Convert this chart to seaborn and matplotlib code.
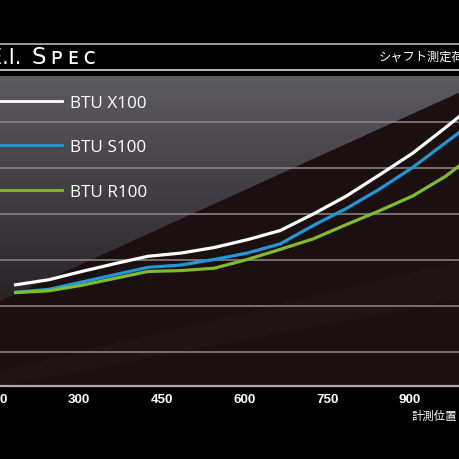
import numpy as np
import pandas as pd
import matplotlib
matplotlib.use("Agg")
import matplotlib.pyplot as plt
from matplotlib.patches import Polygon, Rectangle
import seaborn as sns

# ---- data ----
positions = [185, 245, 305, 365, 425, 485, 545, 605, 665, 725, 785, 845, 905, 965, 1025]
x100 = [2.46, 2.57, 2.75, 2.92, 3.08, 3.15, 3.27, 3.44, 3.64, 4.00, 4.39, 4.85, 5.32, 5.88, 6.46]
s100 = [2.30, 2.36, 2.52, 2.68, 2.84, 2.89, 3.01, 3.15, 3.35, 3.75, 4.12, 4.54, 5.01, 5.55, 6.09]
r100 = [2.29, 2.33, 2.45, 2.60, 2.75, 2.77, 2.82, 3.01, 3.23, 3.46, 3.77, 4.07, 4.39, 4.82, 5.37]
series_names = ["BTU X100", "BTU S100", "BTU R100"]
x_ticks = [150, 300, 450, 600, 750, 900, 1050]
grid_levels = [1, 2, 3, 4, 5, 6]
title_left = "E.I."
title_right = "S\u2009ᴘ\u2009ᴇ\u2009ᴄ"
header_jp = "シャフト測定荷重"
xlabel_jp = "計測位置（mm）"

colors = {"BTU X100": "#ffffff", "BTU S100": "#1d98d8", "BTU R100": "#80bb2a"}

df = pd.DataFrame({
    "pos": positions * 3,
    "val": x100 + s100 + r100,
    "shaft": [n for n in series_names for _ in positions],
})

W = H = 460
fig = plt.figure(figsize=(4.6, 4.6), dpi=100, facecolor="black")

# ---- background decoration in pixel space ----
bg = fig.add_axes([0, 0, 1, 1], zorder=0)
bg.set_xlim(0, W)
bg.set_ylim(H, 0)
bg.axis("off")
bg.add_patch(Rectangle((0, 0), W, H, color="black"))
# header rules
bg.plot([0, W], [44.5, 44.5], color="#c8c8c8", lw=1.1)
bg.plot([0, W], [70.5, 70.5], color="#e8e8e8", lw=1.1)
# grey gradient panel
grad = np.linspace(0, 1, 256)[:, None]
top = np.array([0x5c, 0x5b, 0x60]) / 255
bot = np.array([0x22, 0x1c, 0x1e]) / 255
img = top[None, None, :] * (1 - grad[:, :, None]) + bot[None, None, :] * grad[:, :, None]
bg.imshow(img, extent=[0, W, 330, 77], aspect="auto", zorder=1)
bg.add_patch(Rectangle((0, 330), W, 57, color="#221c1e", zorder=1))
# dark brown wedge
bg.add_patch(Polygon([(0, 303), (W, 94), (W, 387), (0, 387)], closed=True,
                     color="#1b0f10", zorder=2))
# faint lighter band in lower area
bg.add_patch(Polygon([(0, 387), (0, 372), (W, 262), (W, 300), (0, 387)], closed=True,
                     color="#ffffff", alpha=0.018, zorder=3, lw=0))

# header texts
bg.text(21, 58, title_left, color="white", fontsize=15, family="DejaVu Sans",
        ha="right", va="center")
bg.text(32, 58, title_right, color="white", fontsize=16.5, family="DejaVu Sans",
        ha="left", va="center")
bg.text(379, 57, header_jp, color="white", fontsize=8.8,
        family=["Noto Sans CJK JP", "DejaVu Sans"], ha="left", va="center")
bg.text(412, 416, xlabel_jp, color="white", fontsize=8.2,
        family=["Noto Sans CJK JP", "DejaVu Sans"], ha="left", va="center")

# ---- data axes ----
x_lo, x_hi = 150, 1050
px_per = 82.7 / 150
left_px = 79 + (x_lo - 300) * px_per
right_px = 79 + (x_hi - 300) * px_per
ax = fig.add_axes([left_px / W, 1 - 387 / H, (right_px - left_px) / W, 310 / H], zorder=1)
ax.patch.set_alpha(0)

sns.lineplot(data=df, x="pos", y="val", hue="shaft", hue_order=series_names,
             palette=colors, lw=2.3, ax=ax, zorder=3, sort=False)

ax.set_xlim(x_lo, x_hi)
ax.set_ylim(0.26, 7.0)
ax.set_yticks(grid_levels)
ax.yaxis.grid(True, color="#8f8a8a", lw=1.1, zorder=1)
ax.set_axisbelow(True)
ax.set_yticklabels([])
ax.tick_params(axis="y", length=0)
ax.set_xticks(x_ticks)
ax.set_xticklabels([str(t) for t in x_ticks])
ax.tick_params(axis="x", length=0, pad=5.2, colors="white", labelsize=9.6)
for lab in ax.get_xticklabels():
    lab.set_fontfamily("Liberation Sans")
    lab.set_fontweight("bold")
ax.set_xlabel("")
ax.set_ylabel("")
for s in ["top", "left", "right"]:
    ax.spines[s].set_visible(False)
ax.spines["bottom"].set_color("#b0acac")
ax.spines["bottom"].set_linewidth(1.6)

handles, labels = ax.get_legend_handles_labels()
leg = ax.legend(handles, labels, loc="upper left", bbox_to_anchor=(-23.5 / W, 1 - 95.5 / H),
                bbox_transform=fig.transFigure, frameon=False, borderpad=0,
                borderaxespad=0, handlelength=5, handletextpad=0.45, labelspacing=1.68,
                prop={"family": "Open Sans", "size": 12.3})
for t in leg.get_texts():
    t.set_color("white")
for l in leg.get_lines():
    l.set_linewidth(2.0)

fig.savefig("out.png", dpi=100, facecolor="black")
